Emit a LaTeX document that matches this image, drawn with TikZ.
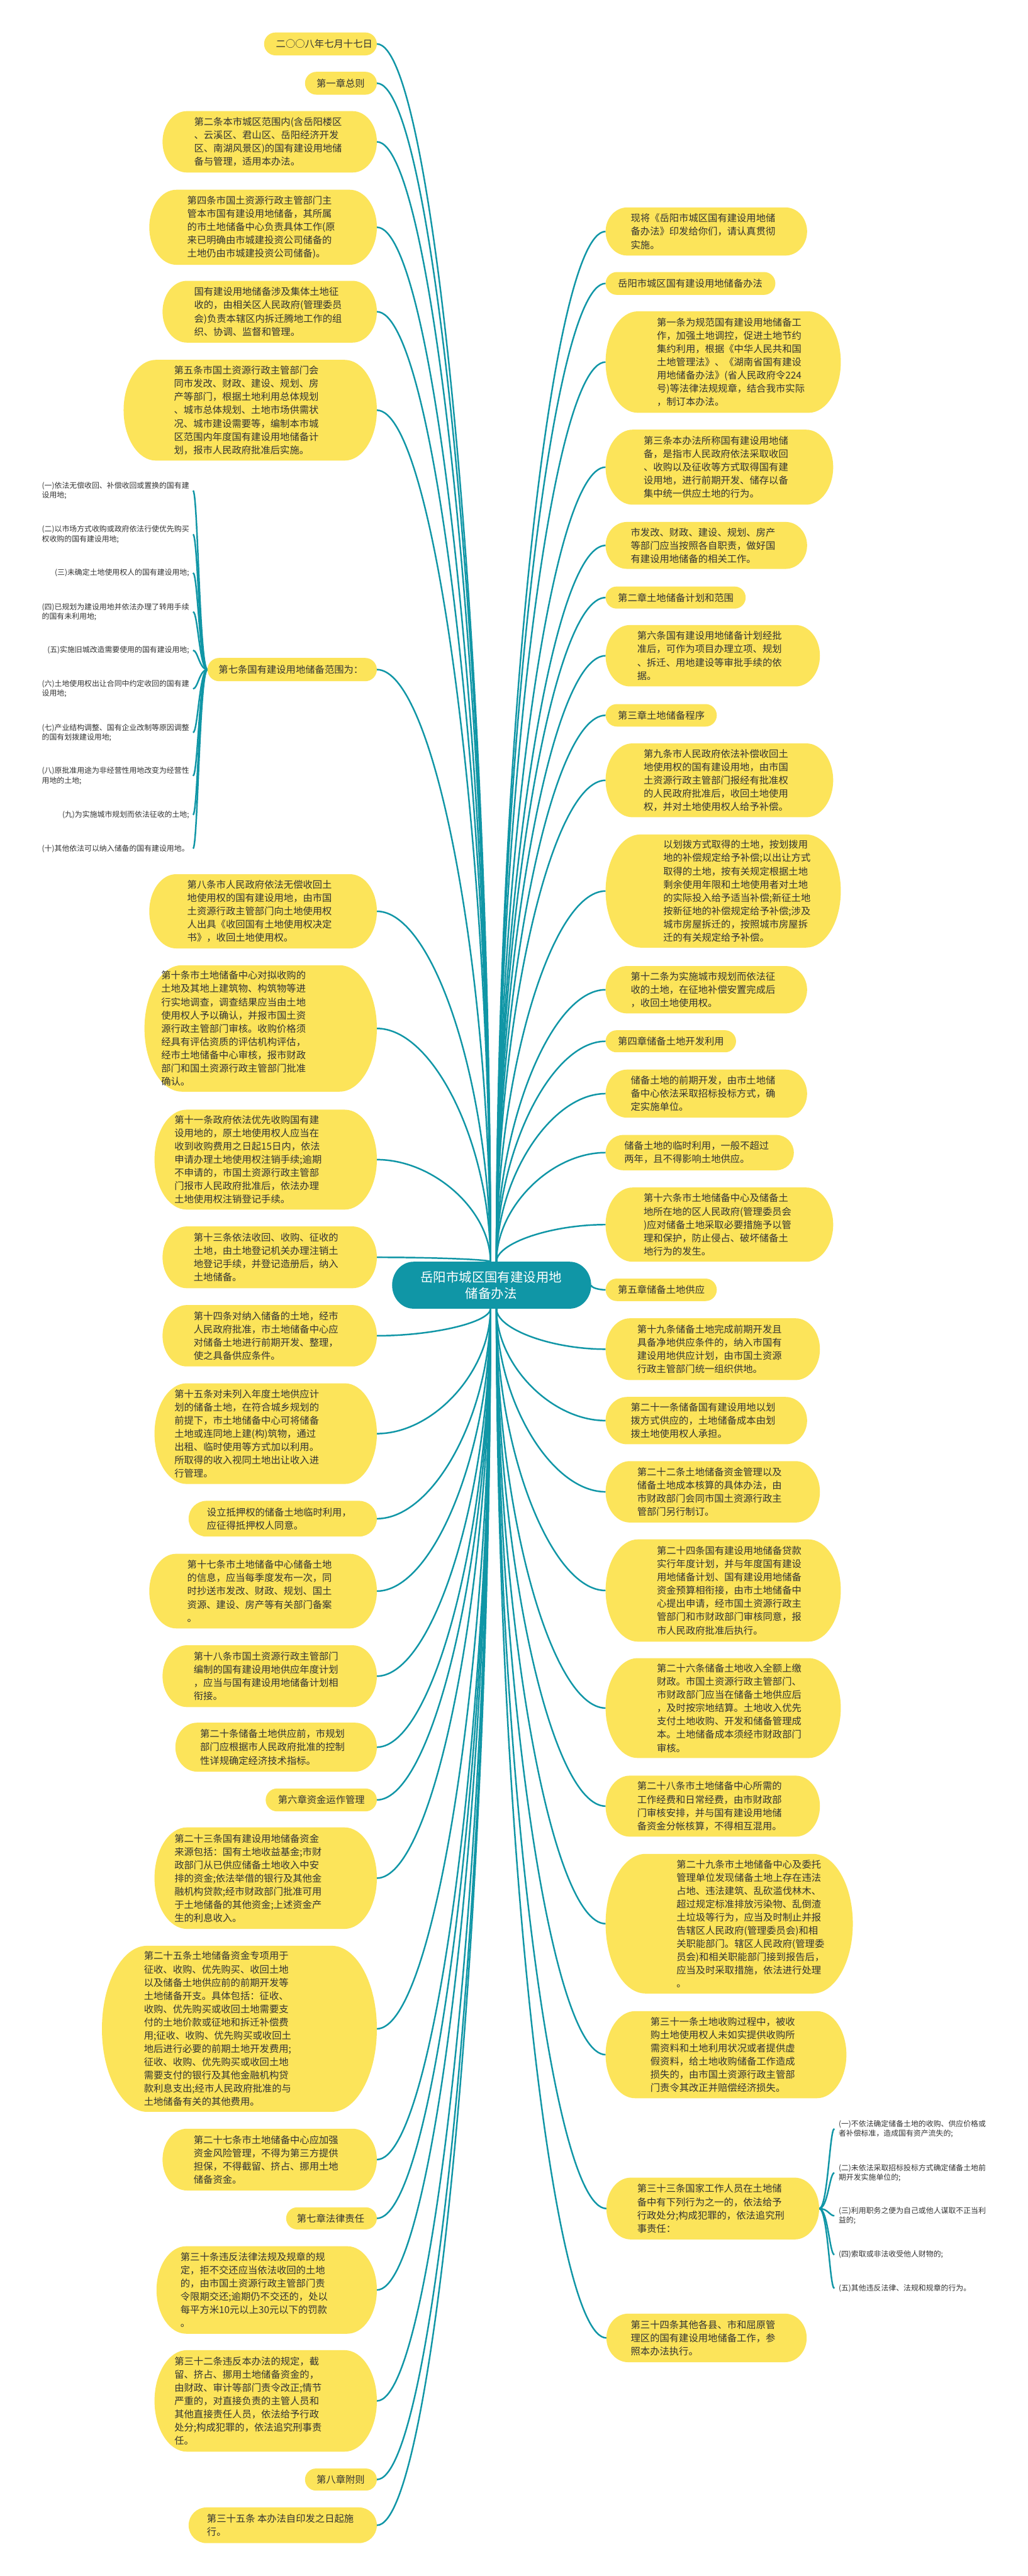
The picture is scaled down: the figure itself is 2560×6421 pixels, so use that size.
\documentclass[tikz,border=0pt]{standalone}
\usepackage{fontspec}
\setmainfont{Noto Sans CJK SC}
\usetikzlibrary{calc}
\definecolor{ycol}{RGB}{252,228,90}
\definecolor{tealc}{RGB}{16,150,166}
\definecolor{tcol}{RGB}{51,51,51}
\pgfdeclarelayer{bg}
\pgfdeclarelayer{back}
\pgfsetlayers{bg,back,main}
\tikzset{
  txt/.style={inner sep=0pt, align=left, text=tcol, font=\fontsize{6.83}{9.39}\selectfont},
  ctxt/.style={inner sep=0pt, align=center, text=white, font=\fontsize{9.1}{11.9}\selectfont},
  itm/.style={inner sep=0pt, align=left, text=tcol, font=\fontsize{5.3}{6.83}\selectfont},
  conn/.style={draw=tealc, line width=1.1pt},
}
% name, x1, y1, x2, y2, text-left, fill, text style, text
\newcommand{\ybox}[9]{%
  \pgfmathsetmacro{\myym}{(#3+#5)/2}%
  \pgfmathsetmacro{\myhh}{(#5-#3)/2}%
  \pgfmathsetmacro{\myrx}{min(min(0.5*(#5-#3),0.2*(#5-#3)+30),(#4-#2)/2)}%
  \pgfmathsetmacro{\mykx}{0.5523*\myrx}%
  \pgfmathsetmacro{\myky}{0.5523*\myhh}%
  \pgfmathsetmacro{\myxm}{(#2+#4)/2}%
  \pgfmathsetmacro{\mywd}{(#4-#2)*0.01}%
  \pgfmathsetmacro{\myhtt}{(#5-#3)*0.01}%
  \fill[#7] (#2+\myrx,#3) -- (#4-\myrx,#3) .. controls (#4-\myrx+\mykx,#3) and (#4,\myym-\myky) .. (#4,\myym)
     .. controls (#4,\myym+\myky) and (#4-\myrx+\mykx,#5) .. (#4-\myrx,#5) -- (#2+\myrx,#5)
     .. controls (#2+\myrx-\mykx,#5) and (#2,\myym+\myky) .. (#2,\myym)
     .. controls (#2,\myym-\myky) and (#2+\myrx-\mykx,#3) .. cycle;
  \node[inner sep=0pt, outer sep=0pt, minimum width=\mywd cm, minimum height=\myhtt cm] (#1) at (\myxm,\myym) {};
  \node[#8, anchor=west] (#1t) at (#6,\myym) {#9};
}
\newcommand{\conn}[2]{\draw[conn] let \p1=(#1), \p2=(#2) in (\p1) .. controls (\x1,{0.5*\y1+0.5*\y2}) and ({0.5*\x1+0.5*\x2},\y2) .. (\p2);}
\begin{document}
\begin{tikzpicture}[x=0.01cm,y=-0.01cm]
\begin{pgfonlayer}{bg}
\fill[white] (0,0) rectangle (2560,6421);
\end{pgfonlayer}
\useasboundingbox (0,0) rectangle (2560,6421);

% centre
\ybox{C}{977}{3145}{1473}{3262}{1047}{tealc}{ctxt}{岳阳市城区国有建设用地\\储备办法}
\coordinate (cTL) at ([xshift=-0.03cm]C.north);
\coordinate (cTR) at ([xshift=0.12cm]C.north);
\coordinate (cBL) at ([xshift=-0.03cm]C.south);
\coordinate (cBR) at ([xshift=0.12cm]C.south);

% left side
\ybox{L1}{658}{81}{939}{138}{687}{ycol}{txt}{二○○八年七月十七日}
\ybox{L2}{760}{179}{939}{236}{788}{ycol}{txt}{第一章总则}
\ybox{L3}{405}{277}{939}{430}{483}{ycol}{txt}{第二条本市城区范围内(含岳阳楼区\\、云溪区、君山区、岳阳经济开发\\区、南湖风景区)的国有建设用地储\\备与管理，适用本办法。}
\ybox{L4}{372}{473}{939}{660}{466}{ycol}{txt}{第四条市国土资源行政主管部门主\\管本市国有建设用地储备，其所属\\的市土地储备中心负责具体工作(原\\来已明确由市城建投资公司储备的\\土地仍由市城建投资公司储备)。}
\ybox{L5}{405}{700}{939}{854}{483}{ycol}{txt}{国有建设用地储备涉及集体土地征\\收的，由相关区人民政府(管理委员\\会)负责本辖区内拆迁腾地工作的组\\织、协调、监督和管理。}
\ybox{L6}{308}{897}{939}{1148}{433}{ycol}{txt}{第五条市国土资源行政主管部门会\\同市发改、财政、建设、规划、房\\产等部门，根据土地利用总体规划\\、城市总体规划、土地市场供需状\\况、城市建设需要等，编制本市城\\区范围内年度国有建设用地储备计\\划，报市人民政府批准后实施。}
\ybox{L7}{517}{1640}{939}{1698}{544}{ycol}{txt}{第七条国有建设用地储备范围为：}
\node[itm,anchor=east] (L7a) at (472,1223) {(一)依法无偿收回、补偿收回或置换的国有建\\设用地;};
\node[itm,anchor=east] (L7b) at (472,1332) {(二)以市场方式收购或政府依法行使优先购买\\权收购的国有建设用地;};
\node[itm,anchor=east] (L7c) at (472,1428) {(三)未确定土地使用权人的国有建设用地;};
\node[itm,anchor=east] (L7d) at (472,1525) {(四)已规划为建设用地并依法办理了转用手续\\的国有未利用地;};
\node[itm,anchor=east] (L7e) at (472,1621) {(五)实施旧城改造需要使用的国有建设用地;};
\node[itm,anchor=east] (L7f) at (472,1717) {(六)土地使用权出让合同中约定收回的国有建\\设用地;};
\node[itm,anchor=east] (L7g) at (472,1826) {(七)产业结构调整、国有企业改制等原因调整\\的国有划拨建设用地;};
\node[itm,anchor=east] (L7h) at (472,1934) {(八)原批准用途为非经营性用地改变为经营性\\用地的土地;};
\node[itm,anchor=east] (L7i) at (472,2031) {(九)为实施城市规划而依法征收的土地;};
\node[itm,anchor=east] (L7j) at (472,2115) {(十)其他依法可以纳入储备的国有建设用地。};
\ybox{L8}{372}{2179}{939}{2364}{466}{ycol}{txt}{第八条市人民政府依法无偿收回土\\地使用权的国有建设用地，由市国\\土资源行政主管部门向土地使用权\\人出具《收回国有土地使用权决定\\书》，收回土地使用权。}
\ybox{L9}{360}{2406}{939}{2721}{401}{ycol}{txt}{第十条市土地储备中心对拟收购的\\土地及其地上建筑物、构筑物等进\\行实地调查，调查结果应当由土地\\使用权人予以确认，并报市国土资\\源行政主管部门审核。收购价格须\\经具有评估资质的评估机构评估，\\经市土地储备中心审核，报市财政\\部门和国土资源行政主管部门批准\\确认。}
\ybox{L10}{385}{2766}{939}{3015}{434}{ycol}{txt}{第十一条政府依法优先收购国有建\\设用地的，原土地使用权人应当在\\收到收购费用之日起15日内，依法\\申请办理土地使用权注销手续;逾期\\不申请的，市国土资源行政主管部\\门报市人民政府批准后，依法办理\\土地使用权注销登记手续。}
\ybox{L11}{405}{3057}{939}{3211}{482}{ycol}{txt}{第十三条依法收回、收购、征收的\\土地，由土地登记机关办理注销土\\地登记手续，并登记造册后，纳入\\土地储备。}
\ybox{L12}{405}{3253}{939}{3406}{482}{ycol}{txt}{第十四条对纳入储备的土地，经市\\人民政府批准，市土地储备中心应\\对储备土地进行前期开发、整理，\\使之具备供应条件。}
\ybox{L13}{385}{3448}{939}{3699}{434}{ycol}{txt}{第十五条对未列入年度土地供应计\\划的储备土地，在符合城乡规划的\\前提下，市土地储备中心可将储备\\土地或连同地上建(构)筑物，通过\\出租、临时使用等方式加以利用。\\所取得的收入视同土地出让收入进\\行管理。}
\ybox{L14}{470}{3741}{939}{3830}{515}{ycol}{txt}{设立抵押权的储备土地临时利用，\\应征得抵押权人同意。}
\ybox{L15}{372}{3873}{939}{4059}{466}{ycol}{txt}{第十七条市土地储备中心储备土地\\的信息，应当每季度发布一次，同\\时抄送市发改、财政、规划、国土\\资源、建设、房产等有关部门备案\\。}
\ybox{L16}{405}{4101}{939}{4255}{482}{ycol}{txt}{第十八条市国土资源行政主管部门\\编制的国有建设用地供应年度计划\\，应当与国有建设用地储备计划相\\衔接。}
\ybox{L17}{437}{4294}{939}{4416}{498}{ycol}{txt}{第二十条储备土地供应前，市规划\\部门应根据市人民政府批准的控制\\性详规确定经济技术指标。}
\ybox{L18}{662}{4458}{939}{4515}{692}{ycol}{txt}{第六章资金运作管理}
\ybox{L19}{385}{4555}{939}{4808}{434}{ycol}{txt}{第二十三条国有建设用地储备资金\\来源包括：国有土地收益基金;市财\\政部门从已供应储备土地收入中安\\排的资金;依法举借的银行及其他金\\融机构贷款;经市财政部门批准可用\\于土地储备的其他资金;上述资金产\\生的利息收入。}
\ybox{L20}{254}{4850}{939}{5264}{358}{ycol}{txt}{第二十五条土地储备资金专项用于\\征收、收购、优先购买、收回土地\\以及储备土地供应前的前期开发等\\土地储备开支。具体包括：征收、\\收购、优先购买或收回土地需要支\\付的土地价款或征地和拆迁补偿费\\用;征收、收购、优先购买或收回土\\地后进行必要的前期土地开发费用;\\征收、收购、优先购买或收回土地\\需要支付的银行及其他金融机构贷\\款利息支出;经市人民政府批准的与\\土地储备有关的其他费用。}
\ybox{L21}{405}{5306}{939}{5460}{482}{ycol}{txt}{第二十七条市土地储备中心应加强\\资金风险管理，不得为第三方提供\\担保，不得截留、挤占、挪用土地\\储备资金。}
\ybox{L22}{713}{5502}{939}{5557}{739}{ycol}{txt}{第七章法律责任}
\ybox{L23}{390}{5599}{939}{5817}{449}{ycol}{txt}{第三十条违反法律法规及规章的规\\定，拒不交还应当依法收回的土地\\的，由市国土资源行政主管部门责\\令限期交还;逾期仍不交还的，处以\\每平方米10元以上30元以下的罚款\\。}
\ybox{L24}{385}{5858}{939}{6111}{434}{ycol}{txt}{第三十二条违反本办法的规定，截\\留、挤占、挪用土地储备资金的，\\由财政、审计等部门责令改正;情节\\严重的，对直接负责的主管人员和\\其他直接责任人员，依法给予行政\\处分;构成犯罪的，依法追究刑事责\\任。}
\ybox{L25}{760}{6153}{939}{6208}{788}{ycol}{txt}{第八章附则}
\ybox{L26}{470}{6250}{939}{6339}{515}{ycol}{txt}{第三十五条 本办法自印发之日起施\\行。}

% right side
\ybox{R1}{1509}{517}{2011}{637}{1571}{ycol}{txt}{现将《岳阳市城区国有建设用地储\\备办法》印发给你们，请认真贯彻\\实施。}
\ybox{R2}{1509}{678}{1932}{735}{1539}{ycol}{txt}{岳阳市城区国有建设用地储备办法}
\ybox{R3}{1509}{776}{2095}{1029}{1636}{ycol}{txt}{第一条为规范国有建设用地储备工\\作，加强土地调控，促进土地节约\\集约利用，根据《中华人民共和国\\土地管理法》、《湖南省国有建设\\用地储备办法》(省人民政府令224\\号)等法律法规规章，结合我市实际\\，制订本办法。}
\ybox{R4}{1509}{1071}{2076}{1258}{1603}{ycol}{txt}{第三条本办法所称国有建设用地储\\备，是指市人民政府依法采取收回\\、收购以及征收等方式取得国有建\\设用地，进行前期开发、储存以备\\集中统一供应土地的行为。}
\ybox{R5}{1509}{1301}{2011}{1418}{1571}{ycol}{txt}{市发改、财政、建设、规划、房产\\等部门应当按照各自职责，做好国\\有建设用地储备的相关工作。}
\ybox{R6}{1509}{1462}{1858}{1517}{1539}{ycol}{txt}{第二章土地储备计划和范围}
\ybox{R7}{1509}{1558}{2043}{1711}{1587}{ycol}{txt}{第六条国有建设用地储备计划经批\\准后，可作为项目办理立项、规划\\、拆迁、用地建设等审批手续的依\\据。}
\ybox{R8}{1509}{1755}{1786}{1811}{1539}{ycol}{txt}{第三章土地储备程序}
\ybox{R9}{1509}{1853}{2076}{2037}{1603}{ycol}{txt}{第九条市人民政府依法补偿收回土\\地使用权的国有建设用地，由市国\\土资源行政主管部门报经有批准权\\的人民政府批准后，收回土地使用\\权，并对土地使用权人给予补偿。}
\ybox{R10}{1509}{2080}{2095}{2362}{1652}{ycol}{txt}{以划拨方式取得的土地，按划拨用\\地的补偿规定给予补偿;以出让方式\\取得的土地，按有关规定根据土地\\剩余使用年限和土地使用者对土地\\的实际投入给予适当补偿;新征土地\\按新征地的补偿规定给予补偿;涉及\\城市房屋拆迁的，按照城市房屋拆\\迁的有关规定给予补偿。}
\ybox{R11}{1509}{2408}{2011}{2526}{1571}{ycol}{txt}{第十二条为实施城市规划而依法征\\收的土地，在征地补偿安置完成后\\，收回土地使用权。}
\ybox{R12}{1509}{2568}{1834}{2623}{1539}{ycol}{txt}{第四章储备土地开发利用}
\ybox{R13}{1509}{2666}{2011}{2786}{1571}{ycol}{txt}{储备土地的前期开发，由市土地储\\备中心依法采取招标投标方式，确\\定实施单位。}
\ybox{R14}{1509}{2829}{1978}{2917}{1555}{ycol}{txt}{储备土地的临时利用，一般不超过\\两年，且不得影响土地供应。}
\ybox{R15}{1509}{2960}{2076}{3145}{1603}{ycol}{txt}{第十六条市土地储备中心及储备土\\地所在地的区人民政府(管理委员会\\)应对储备土地采取必要措施予以管\\理和保护，防止侵占、破坏储备土\\地行为的发生。}
\ybox{R16}{1509}{3187}{1786}{3243}{1539}{ycol}{txt}{第五章储备土地供应}
\ybox{R17}{1509}{3286}{2043}{3440}{1587}{ycol}{txt}{第十九条储备土地完成前期开发且\\具备净地供应条件的，纳入市国有\\建设用地供应计划，由市国土资源\\行政主管部门统一组织供地。}
\ybox{R18}{1509}{3482}{2011}{3600}{1571}{ycol}{txt}{第二十一条储备国有建设用地以划\\拨方式供应的，土地储备成本由划\\拨土地使用权人承担。}
\ybox{R19}{1509}{3642}{2043}{3795}{1587}{ycol}{txt}{第二十二条土地储备资金管理以及\\储备土地成本核算的具体办法，由\\市财政部门会同市国土资源行政主\\管部门另行制订。}
\ybox{R20}{1509}{3837}{2095}{4092}{1636}{ycol}{txt}{第二十四条国有建设用地储备贷款\\实行年度计划，并与年度国有建设\\用地储备计划、国有建设用地储备\\资金预算相衔接，由市土地储备中\\心提出申请，经市国土资源行政主\\管部门和市财政部门审核同意，报\\市人民政府批准后执行。}
\ybox{R21}{1509}{4133}{2095}{4382}{1636}{ycol}{txt}{第二十六条储备土地收入全额上缴\\财政。市国土资源行政主管部门、\\市财政部门应当在储备土地供应后\\，及时按宗地结算。土地收入优先\\支付土地收购、开发和储备管理成\\本。土地储备成本须经市财政部门\\审核。}
\ybox{R22}{1509}{4426}{2043}{4578}{1587}{ycol}{txt}{第二十八条市土地储备中心所需的\\工作经费和日常经费，由市财政部\\门审核安排，并与国有建设用地储\\备资金分帐核算，不得相互混用。}
\ybox{R23}{1509}{4621}{2125}{4969}{1685}{ycol}{txt}{第二十九条市土地储备中心及委托\\管理单位发现储备土地上存在违法\\占地、违法建筑、乱砍滥伐林木、\\超过规定标准排放污染物、乱倒渣\\土垃圾等行为，应当及时制止并报\\告辖区人民政府(管理委员会)和相\\关职能部门。辖区人民政府(管理委\\员会)和相关职能部门接到报告后，\\应当及时采取措施，依法进行处理\\。}
\ybox{R24}{1509}{5013}{2109}{5230}{1620}{ycol}{txt}{第三十一条土地收购过程中，被收\\购土地使用权人未如实提供收购所\\需资料和土地利用状况或者提供虚\\假资料，给土地收购储备工作造成\\损失的，由市国土资源行政主管部\\门责令其改正并赔偿经济损失。}
\ybox{R25}{1511}{5428}{2041}{5582}{1587}{ycol}{txt}{第三十三条国家工作人员在土地储\\备中有下列行为之一的，依法给予\\行政处分;构成犯罪的，依法追究刑\\事责任：}
\node[itm,anchor=west] (R25a) at (2089,5306) {(一)不依法确定储备土地的收购、供应价格或\\者补偿标准，造成国有资产流失的;};
\node[itm,anchor=west] (R25b) at (2089,5416) {(二)未依法采取招标投标方式确定储备土地前\\期开发实施单位的;};
\node[itm,anchor=west] (R25c) at (2089,5523) {(三)利用职务之便为自己或他人谋取不正当利\\益的;};
\node[itm,anchor=west] (R25d) at (2089,5620) {(四)索取或非法收受他人财物的;};
\node[itm,anchor=west] (R25e) at (2089,5704) {(五)其他违反法律、法规和规章的行为。};
\ybox{R26}{1511}{5767}{2010}{5888}{1571}{ycol}{txt}{第三十四条其他各县、市和屈原管\\理区的国有建设用地储备工作，参\\照本办法执行。}

\begin{pgfonlayer}{back}
\foreach \nd in {L1,L2,L3,L4,L5,L6,L7,L8,L9,L10,L11}{\conn{cTL}{\nd.east}}
\foreach \nd in {L12,L13,L14,L15,L16,L17,L18,L19,L20,L21,L22,L23,L24,L25,L26}{\conn{cBL}{\nd.east}}
\foreach \nd in {R1,R2,R3,R4,R5,R6,R7,R8,R9,R10,R11,R12,R13,R14,R15}{\conn{cTR}{\nd.west}}
\conn{C.east}{R16.west}
\foreach \nd in {R17,R18,R19,R20,R21,R22,R23,R24,R25,R26}{\conn{cBR}{\nd.west}}
\foreach \nd in {L7a,L7b,L7c,L7d,L7e,L7f,L7g,L7h,L7i,L7j}{
  \draw[conn] (L7.west) .. controls +(-20,0) and +(12,0) .. ([xshift=0.09cm]\nd.east);}
\foreach \nd in {R25a,R25b,R25c,R25d,R25e}{
  \draw[conn] (R25.east) .. controls +(22,0) and +(-12,0) .. ([xshift=-0.1cm]\nd.west);}
\end{pgfonlayer}
\end{tikzpicture}
\end{document}
